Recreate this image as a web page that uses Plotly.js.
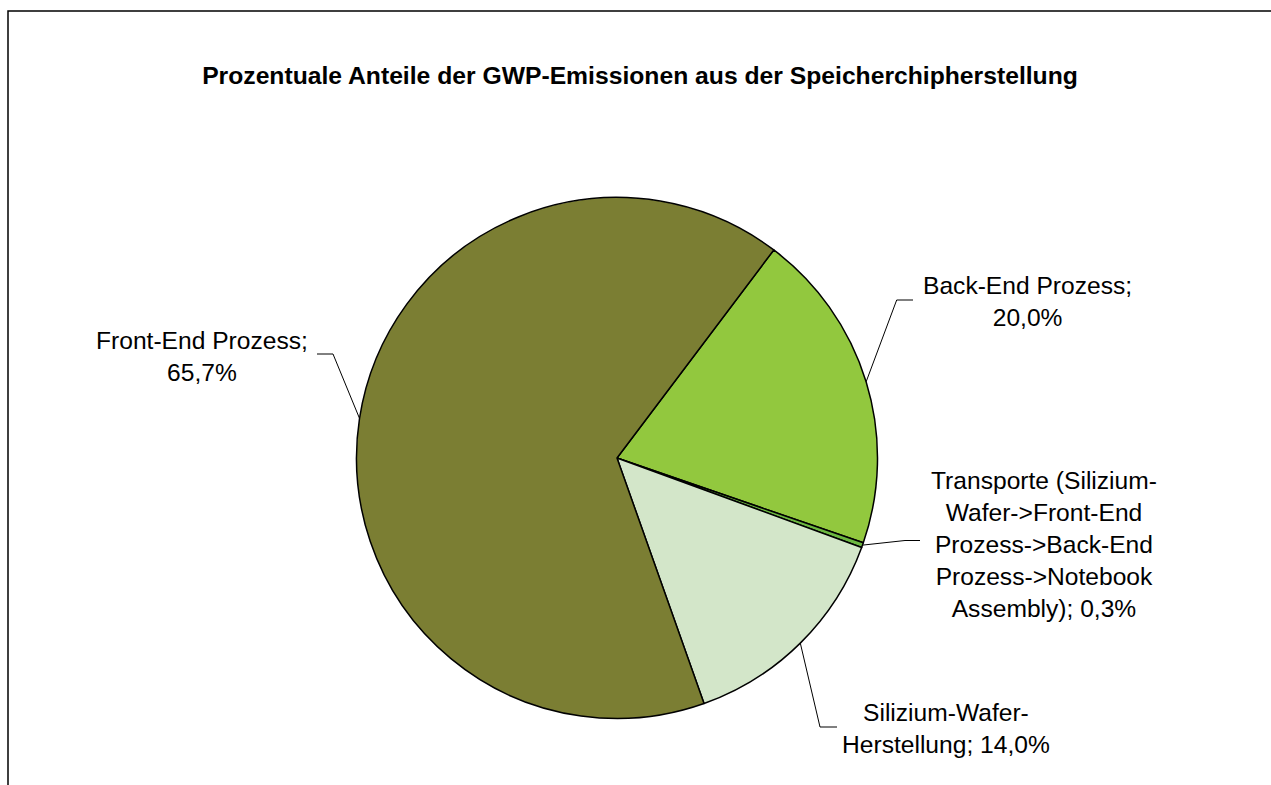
<!DOCTYPE html>
<html>
<head>
<meta charset="utf-8">
<script src="https://cdn.plot.ly/plotly-3.0.1.min.js"></script>
<style>html,body{margin:0;padding:0;background:#fff;}#chart{width:1271px;height:785px;}</style>
</head>
<body>
<div id="chart"></div>
<script>
// ---- data ----
var categories = ["Back-End Prozess", "Transporte (Silizium-Wafer->Front-End Prozess->Back-End Prozess->Notebook Assembly)", "Silizium-Wafer-Herstellung", "Front-End Prozess"];
var shares = [20.0, 0.3, 14.0, 65.7];
var labelTexts = [
  "Back-End Prozess;<br>20,0%",
  "Transporte (Silizium-<br>Wafer->Front-End<br>Prozess->Back-End<br>Prozess->Notebook<br>Assembly); 0,3%",
  "Silizium-Wafer-<br>Herstellung; 14,0%",
  "Front-End Prozess;<br>65,7%"
];
var titleText = "Prozentuale Anteile der GWP-Emissionen aus der Speicherchipherstellung";

// ---- styles / layout config ----
var colors = ["#92C83E", "#6CB741", "#D3E6C9", "#7B7E33"];
var W = 1271, H = 785;
var cx = 617, cy = 458, R = 260.5;
var rotation = 37;
// elbow points and label centres (pixels)
var elbows = [[896.7, 300], [905, 540.5], [820, 727], [333, 354]];
var ends   = [[913, 300], [920, 540.5], [837, 727], [317, 354]];
var labelPos = [[1027, 301], [1044, 544], [946, 728], [202, 356]];

function px(x){ return x / W; }
function py(y){ return 1 - y / H; }

var total = shares.reduce(function(a,b){return a+b;}, 0);
var shapes = [];
var annotations = [];
var cum = 0;
for (var i = 0; i < shares.length; i++) {
  var mid = (rotation + (cum + shares[i] / 2) / total * 360) * Math.PI / 180;
  cum += shares[i];
  var ax = cx + R * Math.sin(mid), ay = cy - R * Math.cos(mid);
  shapes.push({
    type: "path", xref: "paper", yref: "paper",
    path: "M " + px(ax) + "," + py(ay) + " L " + px(elbows[i][0]) + "," + py(elbows[i][1]) + " L " + px(ends[i][0]) + "," + py(ends[i][1]),
    line: {color: "#000", width: 1}
  });
  annotations.push({
    xref: "paper", yref: "paper", x: px(labelPos[i][0]), y: py(labelPos[i][1]),
    xanchor: "center", yanchor: "middle", align: "center", showarrow: false,
    text: labelTexts[i],
    font: {family: "Liberation Sans, Arial, sans-serif", size: 24.6, color: "#000"}
  });
}
// frame
shapes.push({type: "rect", xref: "paper", yref: "paper", x0: px(8), y0: -0.05, x1: 1.05, y1: py(11), line: {color: "#000", width: 1.5}});

var trace = {
  type: "pie",
  labels: categories,
  values: shares,
  sort: false,
  direction: "clockwise",
  rotation: rotation,
  marker: {colors: colors, line: {color: "#000", width: 1.5}},
  textinfo: "none",
  textposition: "none",
  hoverinfo: "label+percent",
  showlegend: false,
  domain: {x: [px(cx - R), px(cx + R)], y: [py(cy + R), py(cy - R)]}
};

var layout = {
  width: W, height: H,
  margin: {l: 0, r: 0, t: 0, b: 0},
  paper_bgcolor: "#fff",
  showlegend: false,
  title: {
    text: "<b>" + titleText + "</b>",
    font: {family: "Liberation Sans, Arial, sans-serif", size: 24.7, color: "#000"},
    x: 640 / W, xanchor: "center", xref: "paper",
    y: 1 - 75 / H, yanchor: "middle", yref: "container"
  },
  shapes: shapes,
  annotations: annotations
};

Plotly.newPlot("chart", [trace], layout, {displayModeBar: false, staticPlot: true});
</script>
</body>
</html>
